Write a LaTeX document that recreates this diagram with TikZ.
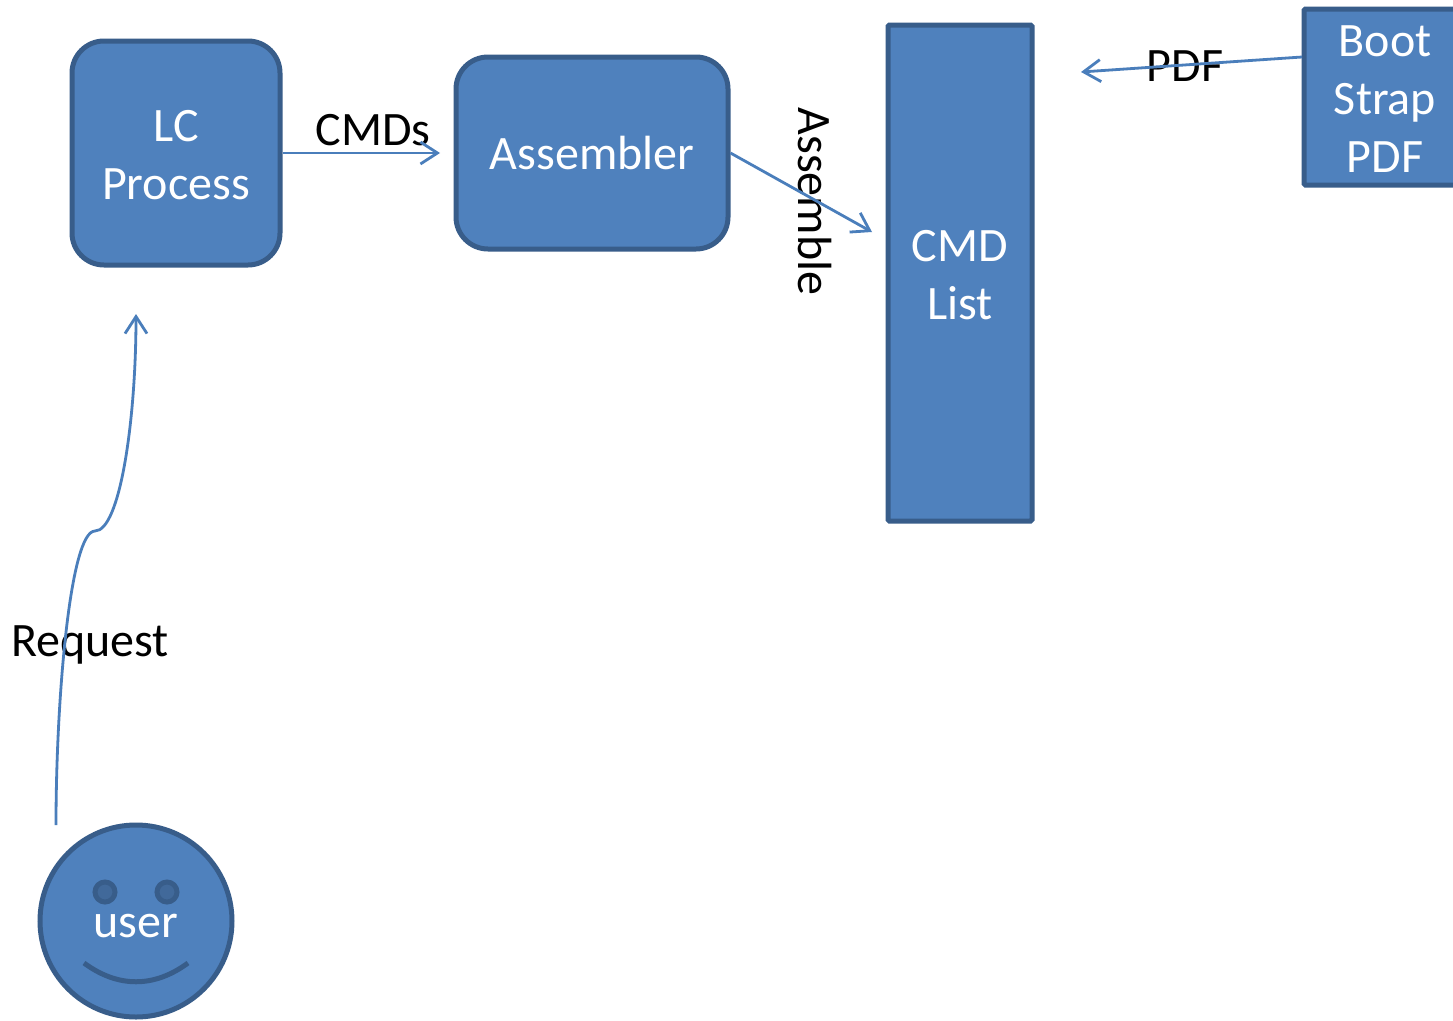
\documentclass[tikz,border=0pt]{standalone}
\usepackage{fontspec}
\setmainfont{Carlito}
\usetikzlibrary{arrows.meta}
\definecolor{boxfill}{HTML}{4F81BD}
\definecolor{boxline}{HTML}{385D8A}
\definecolor{conn}{HTML}{4A7EBB}
\definecolor{eyefill}{HTML}{41699A}
\newcommand{\linestrut}{\rule[-12pt]{0pt}{58pt}}
\tikzset{
  x=1pt,y=-1pt,
  shapebox/.style={draw=boxline,fill=boxfill,line width=5pt,text=white,align=center,inner sep=0pt,
    font=\fontsize{48}{58}\selectfont},
  roundbox/.style={shapebox,rounded corners=32pt},
  squarebox/.style={shapebox,rounded corners=1.5pt},
  conn/.style={draw=conn,line width=2.8pt,-{Straight Barb[length=17pt,width=22pt,line width=2.8pt]}},
  lab/.style={text=black,inner sep=0pt,font=\fontsize{48}{58}\selectfont},
  eye/.style={circle,draw=boxline,fill=eyefill,line width=5pt,minimum size=20pt,inner sep=0pt},
}
\begin{document}
\begin{tikzpicture}
\path[clip] (0,0) rectangle (1453,1020);
\fill[white] (0,0) rectangle (1453,1020);
\node[roundbox,minimum width=208pt,minimum height=224pt] (lc) at (176,153) {\linestrut LC\\\linestrut Process};
\node[roundbox,minimum width=272pt,minimum height=192pt] (asm) at (592,153) {Assembler};
\node[squarebox,minimum width=144pt,minimum height=496pt] (cmd) at (960,273) {\linestrut CMD\\\linestrut List};
\node[squarebox,minimum width=162pt,minimum height=176pt] (boot) at (1385,97) {\linestrut Boot\\\linestrut Strap\\\linestrut PDF};
\node[shapebox,circle,minimum size=192pt] (user) at (136,921) {};
\node[eye] (eyeL) at (105,892) {};
\node[eye] (eyeR) at (167,892) {};
\node[text=white,inner sep=0pt,font=\fontsize{48}{58}\selectfont] (userlab) at (136,926) {user};
\draw[boxline,line width=5pt] (84,963) .. controls (118,988) and (154,988) .. (188,963);
\coordinate (lcIn) at (136,314);
\coordinate (userOut) at (56,825);
\coordinate (asmIn) at (440,153);
\coordinate (cmdIn) at (872,232);
\coordinate (cmdIn2) at (1081,72);
\coordinate (bootOut) at (1302,57);
\node[lab] (lCMDs) at (373,130) {CMDs};
\node[lab] (lPDF) at (1185,66) {PDF};
\node[lab] (lReq) at (90,645) {Request};
\node[lab,rotate=-90] (lAsm) at (815,201.5) {Assemble};
\draw[conn] (lc.east) -- (asmIn);
\draw[conn] (asm.east) -- (cmdIn);
\draw[conn] (bootOut) -- (cmdIn2);
\draw[conn] (userOut) .. controls (56,700) and (70,531) .. (95,531) .. controls (120,531) and (136,420) .. (lcIn);
\end{tikzpicture}
\end{document}
